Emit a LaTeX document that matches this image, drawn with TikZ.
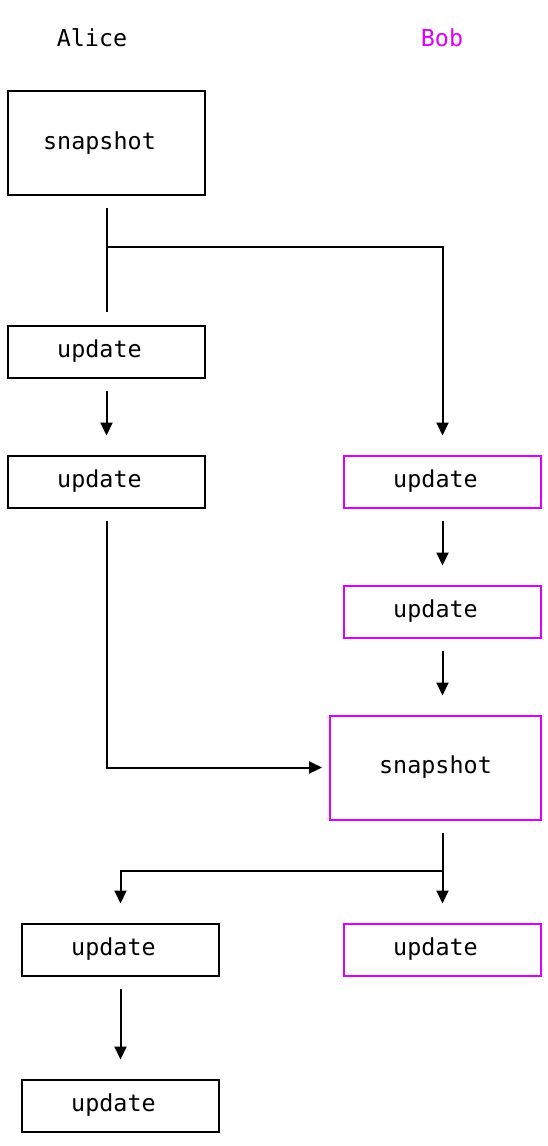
\documentclass[tikz,border=0pt]{standalone}
\usepackage{fontspec}
\setmonofont{DejaVu Sans Mono}
\usetikzlibrary{arrows.meta}
\definecolor{bobc}{RGB}{220,0,255}
\newcommand\padR[1]{#1\hspace*{14pt}}
\tikzset{
  box/.style={draw, line width=2pt, minimum width=197pt, minimum height=52pt, inner sep=0pt, font=\ttfamily\fontsize{23.4}{28}\selectfont},
  tall/.style={minimum height=104pt},
  bobbox/.style={box, draw=bobc},
  lbl/.style={font=\ttfamily\fontsize{23.4}{28}\selectfont, inner sep=0pt},
  conn/.style={line width=2pt},
  arr/.style={conn, -{Triangle[width=12pt,length=13pt]}}
}
\begin{document}
\begin{tikzpicture}[x=1pt,y=-1pt]
\useasboundingbox (0,0) rectangle (548,1146);
\node[lbl] (alice) at (92,38) {Alice};
\node[lbl, text=bobc] (bob) at (442,38) {Bob};

\node[box, tall] (a1) at (106.5,143) {\padR{snapshot}};
\node[box] (a2) at (106.5,351.5) {\padR{update}};
\node[box] (a3) at (106.5,481.5) {\padR{update}};
\node[bobbox] (b1) at (442.5,481.5) {\padR{update}};
\node[bobbox] (b2) at (442.5,611.5) {\padR{update}};
\node[bobbox, tall, minimum width=211pt] (b3) at (435.5,767.5) {snapshot};
\node[box] (a4) at (120.5,949.5) {\padR{update}};
\node[bobbox] (b4) at (442.5,949.5) {\padR{update}};
\node[box] (a5) at (120.5,1105.5) {\padR{update}};

\coordinate (j1) at (106.5,247);
\coordinate (j2) at (442.5,871);

\draw[conn, shorten <=12pt, shorten >=13pt] (a1.south) -- (a2.north);
\draw[arr, shorten >=19pt] (j1) -| (b1.north);
\draw[arr, shorten <=12pt, shorten >=19pt] (a2.south) -- (a3.north);
\draw[arr, shorten <=12pt, shorten >=19pt] (b1.south) -- (b2.north);
\draw[arr, shorten <=12pt, shorten >=19pt] (b2.south) -- (b2.south |- b3.north);
\draw[arr, shorten <=12pt, shorten >=7pt] (a3.south) |- (b3.west);
\draw[arr, shorten <=12pt, shorten >=19pt] (b4.north |- b3.south) -- (b4.north);
\draw[arr, shorten >=19pt] (j2) -| (a4.north);
\draw[arr, shorten <=12pt, shorten >=19pt] (a4.south) -- (a5.north);
\end{tikzpicture}
\end{document}
